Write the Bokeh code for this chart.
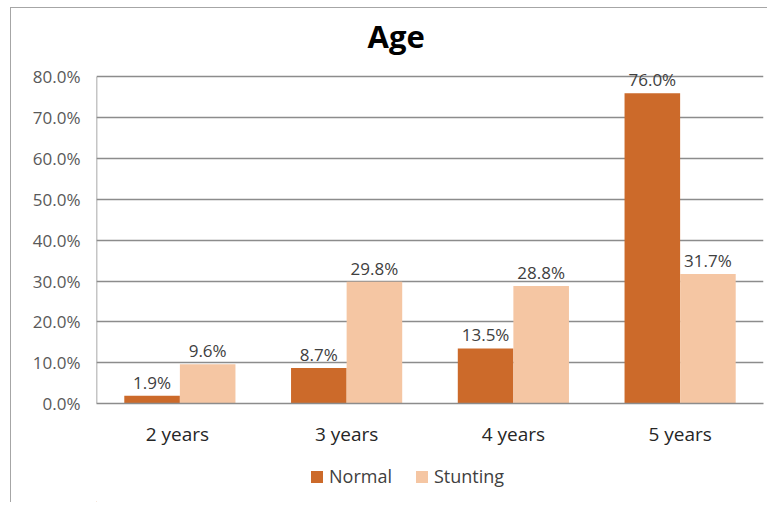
from bokeh.plotting import figure
from bokeh.layouts import column
from bokeh.models import (FactorRange, Range1d, ColumnDataSource, Legend, LegendItem,
                          LabelSet, PrintfTickFormatter, FixedTicker)
from bokeh.core.properties import value
from bokeh.transform import dodge
from bokeh.embed import file_html
from bokeh.resources import INLINE

# Age groups and the share of children in each, per nutrition status (%)
ages = ["2  years", "3 years", "4 years", "5 years"]
normal = [1.9, 8.7, 13.5, 76.0]
stunting = [9.6, 29.8, 28.8, 31.7]
series = ["Normal", "Stunting"]
y_ticks = [0, 10, 20, 30, 40, 50, 60, 70, 80]
y_max = 80

NORMAL_COLOR = "#CC6A2A"
STUNTING_COLOR = "#F5C6A3"
GRID_COLOR = "#8C8C8C"
BORDER = "1px solid #A6A6A6"
FONT = "Open Sans"

src = ColumnDataSource(dict(
    age=ages,
    normal=normal,
    stunting=stunting,
    normal_txt=[f"{v:.1f}%" for v in normal],
    stunting_txt=[f"{v:.1f}%" for v in stunting],
))

# ---- main chart (a little headroom above the top gridline for the tallest label)
p = figure(width=757, height=450, x_range=FactorRange(*ages, range_padding=0),
           y_range=Range1d(0, y_max * 1.05), output_backend="svg", toolbar_location=None,
           min_border_left=85, min_border_right=5, min_border_top=51, min_border_bottom=55,
           title="Age")
p.margin = (7, 0, 0, 10)
p.styles = {"border-left": BORDER, "border-top": BORDER}
p.outline_line_color = None
p.background_fill_color = "white"
p.border_fill_color = "white"

p.title.text_font = FONT
p.title.text_font_style = "bold"
p.title.text_font_size = "31px"
p.title.text_color = "#000000"
p.title.align = "left"
p.title.offset = 271
p.title.standoff = 8

bw = 1 / 3
p.vbar(x=dodge("age", -bw / 2, range=p.x_range), top="normal", width=bw,
       source=src, fill_color=NORMAL_COLOR, line_color=None)
p.vbar(x=dodge("age", bw / 2, range=p.x_range), top="stunting", width=bw,
       source=src, fill_color=STUNTING_COLOR, line_color=None)

label_style = dict(text_font=value(FONT), text_font_size="17px", text_color="#404040",
                   text_align="center", text_baseline="bottom", y_offset=2, source=src)
p.add_layout(LabelSet(x=dodge("age", -bw / 2, range=p.x_range), y="normal",
                      text="normal_txt", **label_style))
p.add_layout(LabelSet(x=dodge("age", bw / 2, range=p.x_range), y="stunting",
                      text="stunting_txt", **label_style))

# value axis: line drawn only up to the top gridline
p.segment(x0=[0], y0=[0], x1=[0], y1=[y_max], line_color=GRID_COLOR, line_width=1.5)
p.yaxis.ticker = FixedTicker(ticks=y_ticks)
p.yaxis.formatter = PrintfTickFormatter(format="%.1f%%")
p.yaxis.major_label_text_font = FONT
p.yaxis.major_label_text_font_size = "17px"
p.yaxis.major_label_text_color = "#595959"
p.yaxis.major_tick_line_color = None
p.yaxis.minor_tick_line_color = None
p.yaxis.axis_line_color = None
p.yaxis.major_label_standoff = 10

p.xaxis.major_label_text_font = FONT
p.xaxis.major_label_text_font_size = "19px"
p.xaxis.major_label_text_color = "#262626"
p.xaxis.major_tick_line_color = None
p.xaxis.axis_line_color = GRID_COLOR
p.xaxis.axis_line_width = 1.5
p.xaxis.major_label_standoff = 11

p.xgrid.grid_line_color = None
p.ygrid.grid_line_color = GRID_COLOR
p.ygrid.grid_line_width = 1.5

# ---- legend strip underneath the chart
lg = figure(width=757, height=45, x_range=Range1d(0, 757), y_range=Range1d(0, 45),
            output_backend="svg", toolbar_location=None,
            x_axis_location=None, y_axis_location=None,
            min_border_left=0, min_border_right=0, min_border_top=0, min_border_bottom=0)
lg.margin = (0, 0, 0, 10)
lg.styles = {"border-left": BORDER}
lg.outline_line_color = None
lg.xgrid.grid_line_color = None
lg.ygrid.grid_line_color = None
lg.border_fill_color = "white"

# key swatches: one bar each, placed outside the visible strip
key_normal = lg.vbar(x=[-100], top=[1], width=1, fill_color=NORMAL_COLOR, line_color=None)
key_stunt = lg.vbar(x=[-100], top=[1], width=1, fill_color=STUNTING_COLOR, line_color=None)

legend = Legend(items=[LegendItem(label=series[0], renderers=[key_normal]),
                       LegendItem(label=series[1], renderers=[key_stunt])],
                orientation="horizontal", location=(213, 14),
                glyph_width=15, glyph_height=15, label_standoff=5, spacing=22,
                padding=4, margin=0, border_line_color=None, background_fill_alpha=0,
                label_text_font=FONT, label_text_font_size="18px",
                label_text_color="#404040")
lg.add_layout(legend, "center")

layout = column(p, lg, spacing=0)
open("out.html", "w").write(file_html(layout, INLINE))
